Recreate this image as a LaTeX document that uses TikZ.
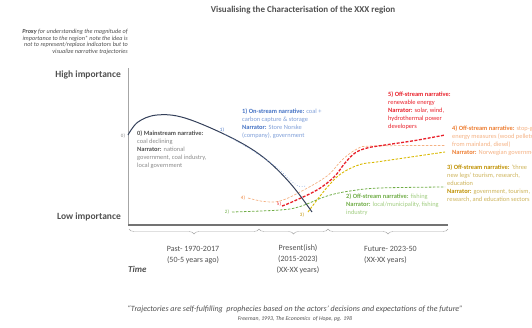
\documentclass[tikz,border=0pt]{standalone}
\usepackage{fontspec}
\setmainfont{Carlito}
\usetikzlibrary{decorations.pathreplacing}
\definecolor{cDark}{HTML}{34405A}
\definecolor{cGrayD}{HTML}{505050}
\definecolor{cGray}{HTML}{8A8A8A}
\definecolor{cBlue}{HTML}{4472C4}
\definecolor{cBlueL}{HTML}{7F9FD8}
\definecolor{cRed}{HTML}{E8202A}
\definecolor{cOrange}{HTML}{ED7D31}
\definecolor{cOrangeL}{HTML}{F4B183}
\definecolor{cGold}{HTML}{BF9000}
\definecolor{cGoldL}{HTML}{CDB35A}
\definecolor{cGoldLine}{HTML}{D9B800}
\definecolor{cGreen}{HTML}{70AD47}
\definecolor{cGreenL}{HTML}{A0CC80}
\tikzset{
  lbl/.style={font=\fontsize{6.4}{8}\selectfont, align=left, inner sep=0pt, anchor=north west},
  tag/.style={font=\fontsize{5}{6}\selectfont, inner sep=0pt},
  period/.style={font=\fontsize{8}{11}\selectfont, align=center, inner sep=0pt, text=cGrayD},
  curvesmooth/.style={smooth, tension=0.6},
  bracestyle/.style={draw=gray!70, line width=0.4pt, decorate, decoration={brace, mirror, amplitude=5pt}}
}
\begin{document}
\begin{tikzpicture}[x=1pt,y=-1pt]
\useasboundingbox (0,0) rectangle (532,327);
% title
\node[font=\fontsize{9}{11}\selectfont\bfseries, text=cGrayD, inner sep=0pt] (title) at (303,10) {Visualising the Characterisation of the XXX region};
% proxy note
\node[font=\fontsize{6.2}{6.5}\selectfont\itshape, align=right, anchor=north east, inner sep=0pt, text=cGrayD] (proxy) at (128,29)
 {\textbf{Proxy} for understanding the magnitude of\\importance to the region* note the idea is\\not to represent/replace indicators but to\\visualize narrative trajectories};
\node[font=\fontsize{9.5}{11}\selectfont\bfseries, anchor=east, inner sep=0pt, text=cGrayD] (high) at (121,75) {High importance};
\node[font=\fontsize{9.5}{11}\selectfont\bfseries, anchor=east, inner sep=0pt, text=cGrayD] (low) at (121,217) {Low importance};
% axes
\coordinate (ytop) at (128,68);
\coordinate (origin) at (128,225);
\coordinate (xend) at (448,225);
\draw[gray!70, line width=0.6pt] (ytop) -- (origin);
\draw[gray!90!black, line width=1.2pt] (origin) -- (xend);
% braces
\coordinate (b0) at (129,229);
\coordinate (b1) at (259,229);
\coordinate (b2) at (328,229);
\coordinate (b3) at (448,229);
\draw[bracestyle] (b0) -- (b1);
\draw[bracestyle] (b1) -- (b2);
\draw[bracestyle] (b2) -- (b3);
\node[period] (past) at (193,255) {Past- 1970-2017\\(50-5 years ago)};
\node[period] (present) at (298,259.5) {Present(ish)\\(2015-2023)\\(XX-XX years)};
\node[period, align=left, anchor=west] (future) at (364,255.5) {Future- 2023-50\\(XX-XX years)};
\node[font=\fontsize{9}{10}\selectfont\bfseries\itshape, anchor=west, inner sep=0pt, text=cGrayD] (time) at (128,269) {Time};
% quote
\node[font=\fontsize{8}{10}\selectfont\itshape, inner sep=0pt, text=cGrayD] (quote) at (295,309) {“Trajectories are self-fulfilling\ \ prophecies based on the actors’ decisions and expectations of the future”};
\node[font=\fontsize{5.8}{7}\selectfont\itshape, inner sep=0pt, text=cGrayD] (cite) at (295,318.5) {Freeman, 1993, The Economics\ \ of Hope, pg. 198};
% curves
\draw[cGreen, line width=0.8pt, dash pattern=on 2.5pt off 1.5pt] plot[curvesmooth] coordinates {(232,212) (280,210) (300,206.5) (327,196) (350,191) (380,188) (445,187)};
\draw[cGoldLine, line width=0.9pt, dash pattern=on 2.5pt off 1.5pt] plot[curvesmooth] coordinates {(308,212) (317,200) (330,184) (342,173) (360,164.5) (380,161.5) (445,152)};
\draw[cOrangeL, line width=0.7pt, dash pattern=on 2.5pt off 1.5pt] plot[curvesmooth] coordinates {(248,198) (264,201.5) (280,201) (300,192) (327,176) (342,160) (357,149) (372,146) (445,145.5)};
\draw[cRed, line width=1.3pt, dash pattern=on 3pt off 1.5pt] plot[curvesmooth] coordinates {(282,206) (292,202) (317,190) (334,177) (345,163) (355,153) (367,148) (385,145) (415,140.5) (445,135)};
\draw[cDark, line width=1pt] plot[curvesmooth] coordinates {(128,135) (138,122) (157,115) (185,118) (230,137) (263,157) (290,183) (312,212)};
\draw[cBlueL, line width=0.6pt, dotted] plot[curvesmooth] coordinates {(225,134.5) (250,149) (275,166) (289,179) (298,186) (306,186)};
% tags
\node[tag, text=cGray] (t0) at (123,136) {0)};
\node[tag, text=cBlue] (t1) at (222,130) {1)};
\node[tag, text=cGreen] (t2) at (227,212) {2)};
\node[tag, text=cGold] (t3) at (302,215) {3)};
\node[tag, text=cOrange] (t4) at (243,198) {4)};
\node[tag, text=cRed] (t5) at (279,204) {5)};
% labels
\node[lbl, text=cGray] (l0) at (137,131) {\textcolor{cGrayD}{\textbf{0) Mainstream narrative:}}\\coal declining\\\textcolor{cGrayD}{\textbf{Narrator:}} national\\government, coal industry,\\local government};
\node[lbl, text=cBlueL] (l1) at (242,109) {\textcolor{cBlue}{\textbf{1) On-stream narrative:}} coal +\\carbon capture \& storage\\\textcolor{cBlue}{\textbf{Narrator:}} Store Norske\\(company), government};
\node[lbl, text=cRed] (l5) at (388,92) {\textbf{5) Off-stream narrative:}\\renewable energy\\\textbf{Narrator:} solar, wind,\\hydrothermal power\\developers};
\node[lbl, text=cOrangeL] (l4) at (452,126) {\textcolor{cOrange}{\textbf{4) Off-stream narrative:}} stop-gap\\energy measures (wood pellets\\from mainland, diesel)\\\textcolor{cOrange}{\textbf{Narrator:}} Norwegian government};
\node[lbl, text=cGoldL] (l3) at (447,165) {\textcolor{cGold}{\textbf{3) Off-stream narrative:}} ‘three\\new legs’ tourism, research,\\education\\\textcolor{cGold}{\textbf{Narrator:}} government, tourism,\\research, and education sectors};
\node[lbl, text=cGreenL] (l2) at (346,194) {\textcolor{cGreen}{\textbf{2) Off-stream narrative:}} fishing\\\textcolor{cGreen}{\textbf{Narrator:}} local/municipality, fishing\\industry};
\end{tikzpicture}
\end{document}
